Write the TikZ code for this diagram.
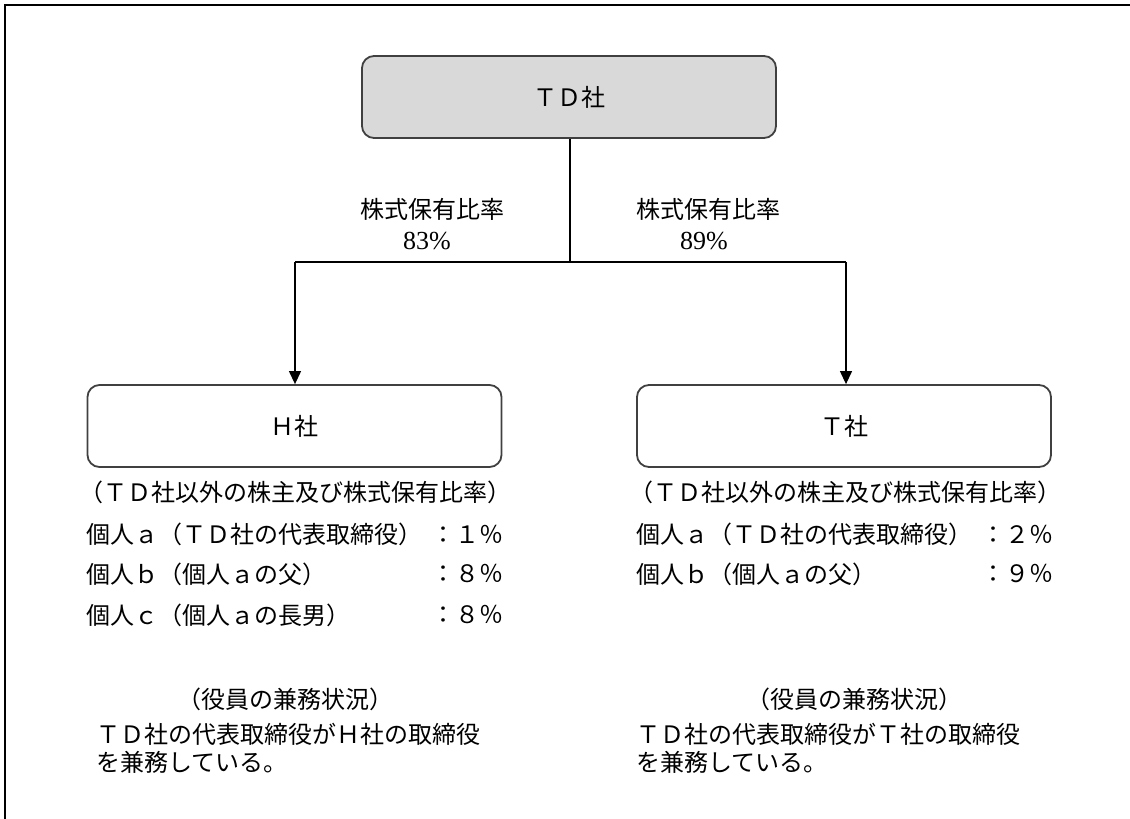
\documentclass[tikz,border=0pt]{standalone}
\usepackage{fontspec}
\setmainfont{Liberation Serif}
\newfontfamily\jp{Noto Sans CJK JP}
\usetikzlibrary{arrows.meta}
\begin{document}
\begin{tikzpicture}[x=1pt,y=-1pt,
  frameline/.style={line width=2.5pt},
  company/.style={draw=black!75, line width=1.8pt, rounded corners=12pt,
    minimum width=414pt, minimum height=82pt, inner sep=0pt,
    font=\jp\fontsize{24}{28}\selectfont},
  tdbox/.style={company, fill=black!15},
  link/.style={line width=1.8pt},
  arr/.style={line width=1.2pt, -{Triangle[length=13pt,width=12pt]}},
  txt/.style={inner sep=0pt, font=\jp\fontsize{24}{28}\selectfont, anchor=west},
  rtxt/.style={txt, anchor=east},
  lbl/.style={inner sep=0pt, font=\jp\fontsize{24}{28}\selectfont, anchor=center},
  pct/.style={inner sep=0pt, font=\fontsize{26}{28}\selectfont, anchor=center}
]
\useasboundingbox (0,0) rectangle (1130,819);
\draw[frameline] (1130,5) -- (5,5) -- (5,819);

% companies
\node[tdbox] (td) at (569,97) {ＴＤ社};
\node[company] (h) at (294.5,426) {Ｈ社};
\node[company] (t) at (844,426) {Ｔ社};

% connectors
\coordinate (jc) at (570,262);
\coordinate (jl) at (295,262);
\coordinate (jr) at (846,262);
\draw[link] (td.south -| jc) -- (jc);
\draw[link] (jl) -- (jr);
\draw[arr] (jl) -- (jl |- h.north);
\draw[arr] (jr) -- (jr |- t.north);

% ratio labels
\node[lbl] (l1) at (432,209) {株式保有比率};
\node[pct] (l1p) at (427,241) {83\%};
\node[lbl] (r1) at (708,209) {株式保有比率};
\node[pct] (r1p) at (704,241) {89\%};

% H side shareholders
\node[txt] (hh) at (79,492) {（ＴＤ社以外の株主及び株式保有比率）};
\node[txt] (ha) at (86,534) {個人ａ（ＴＤ社の代表取締役）};
\node[rtxt] (hap) at (504,534) {：１％};
\node[txt] (hb) at (86,574) {個人ｂ（個人ａの父）};
\node[rtxt] (hbp) at (504,574) {：８％};
\node[txt] (hc) at (86,615) {個人ｃ（個人ａの長男）};
\node[rtxt] (hcp) at (504,615) {：８％};

% T side shareholders
\node[txt] (th) at (629,492) {（ＴＤ社以外の株主及び株式保有比率）};
\node[txt] (ta) at (636,534) {個人ａ（ＴＤ社の代表取締役）};
\node[rtxt] (tap) at (1054,534) {：２％};
\node[txt] (tb) at (636,574) {個人ｂ（個人ａの父）};
\node[rtxt] (tbp) at (1054,574) {：９％};

% directors
\node[lbl] (hr) at (285,699) {（役員の兼務状況）};
\node[txt] (hd1) at (96,734) {ＴＤ社の代表取締役がＨ社の取締役};
\node[txt] (hd2) at (96,762) {を兼務している。};
\node[lbl] (tr) at (854,699) {（役員の兼務状況）};
\node[txt] (td1) at (636,734) {ＴＤ社の代表取締役がＴ社の取締役};
\node[txt] (td2) at (636,762) {を兼務している。};
\end{tikzpicture}
\end{document}
